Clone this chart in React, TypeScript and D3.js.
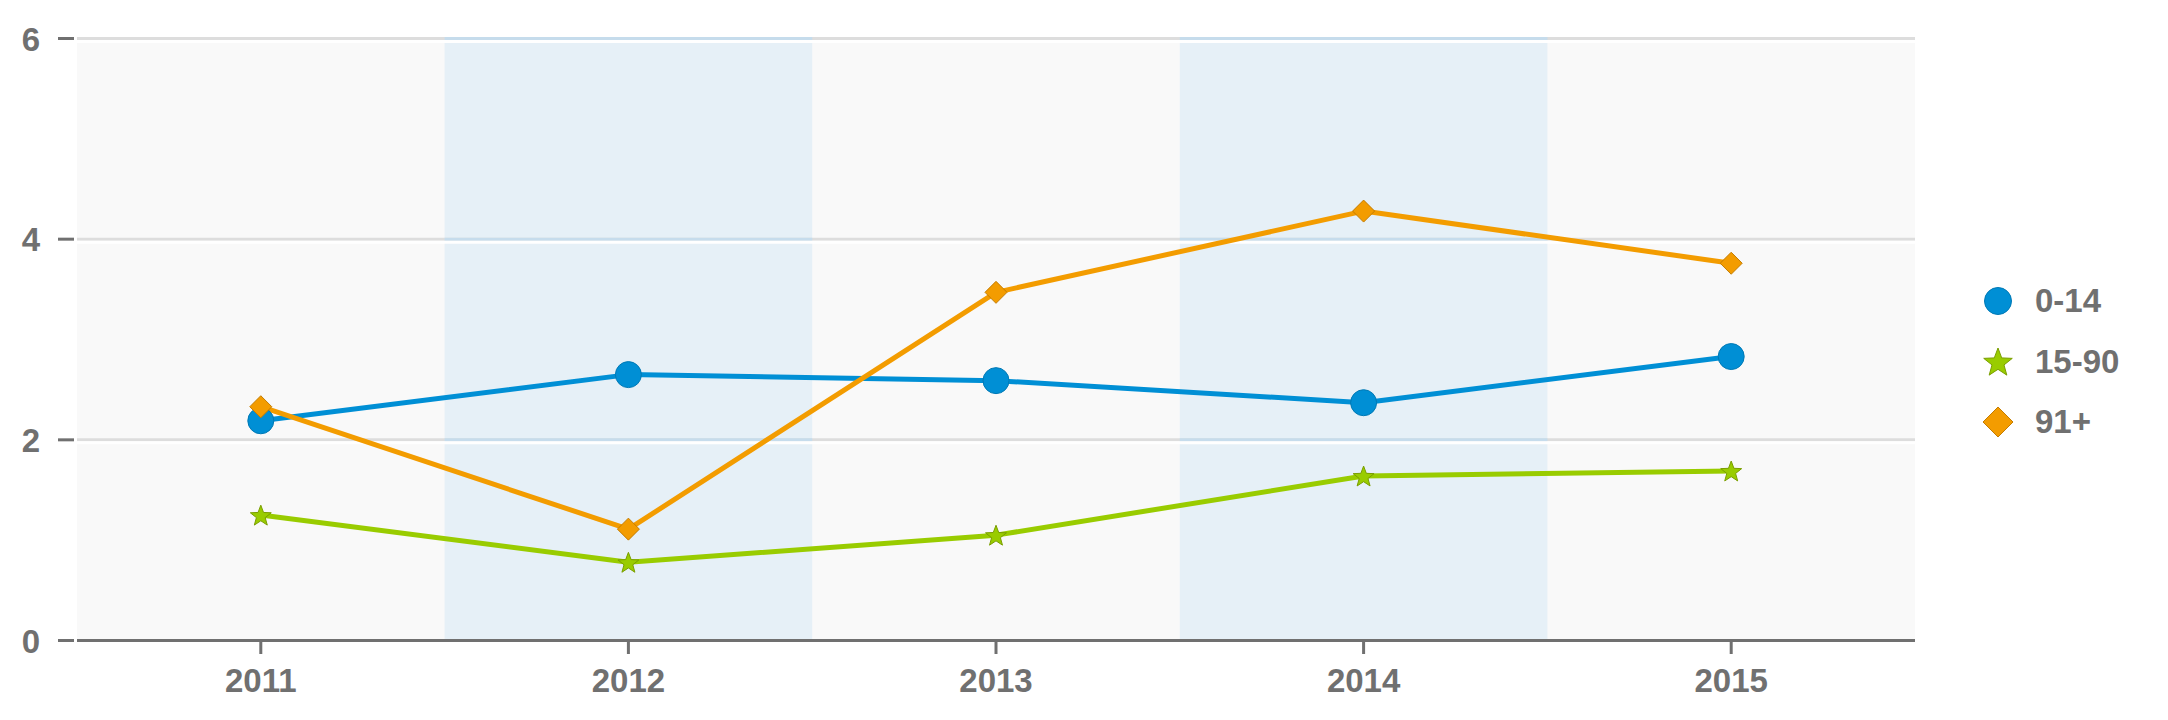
import React from "react";
import * as d3 from "d3";

const years = ["2011", "2012", "2013", "2014", "2015"];
const seriesNames = ["0-14", "15-90", "91+"];
const values0to14 = [2.19, 2.65, 2.59, 2.37, 2.83];
const values15to90 = [1.25, 0.78, 1.05, 1.64, 1.69];
const values91plus = [2.33, 1.11, 3.47, 4.28, 3.76];
const yTicks = [0, 2, 4, 6];
const highlightedYears = ["2012", "2014"];

const W = 2168;
const H = 720;
const TEXT = "#707070";
const FONT = "'Liberation Sans', Arial, sans-serif";
const FS = 33;

const colors = ["#008fd5", "#99cc00", "#f39c00"];
const strokes = ["#0079b5", "#7a9e00", "#c47c00"];
const shapes = ["circle", "star", "diamond"];

function markerPath(shape: string, size: number): string | null {
  if (shape === "star") {
    const outer = size;
    const inner = size * 0.42;
    const pts: [number, number][] = [];
    for (let i = 0; i < 10; i++) {
      const r = i % 2 === 0 ? outer : inner;
      const a = -Math.PI / 2 + (i * Math.PI) / 5;
      pts.push([r * Math.cos(a), r * Math.sin(a) + size * 0.1]);
    }
    return "M" + pts.map((p) => p.join(",")).join("L") + "Z";
  }
  if (shape === "diamond") {
    const s = size;
    return `M0,${-s}L${s},0L0,${s}L${-s},0Z`;
  }
  return null;
}

function Marker({ shape, x, y, i, size }: { shape: string; x: number; y: number; i: number; size: number }) {
  if (shape === "circle") {
    return <circle cx={x} cy={y} r={size} fill={colors[i]} stroke={strokes[i]} strokeWidth={1} />;
  }
  return (
    <path
      d={markerPath(shape, size) as string}
      transform={`translate(${x},${y})`}
      fill={colors[i]}
      stroke={strokes[i]}
      strokeWidth={1}
      strokeLinejoin="miter"
    />
  );
}

export default function App() {
  const left = 77;
  const right = 1915;
  const x = d3.scaleBand<string>().domain(years).range([left, right]).padding(0);
  const y = d3.scaleLinear().domain([0, 6]).range([640.5, 38.5]);
  const cx = (d: string) => (x(d) as number) + x.bandwidth() / 2;

  const allSeries = [values0to14, values15to90, values91plus];
  const line = d3
    .line<number>()
    .x((_, i) => cx(years[i]))
    .y((v) => y(v));

  const gridVals = yTicks.filter((t) => t > 0);

  return (
    <svg
      width={W}
      height={H}
      style={{ position: "absolute", left: 0, top: 0, background: "#fff" }}
      fontFamily={FONT}
    >
      <rect x={left} y={y(6) - 1.5} width={right - left} height={y(0) - y(6) + 1.5} fill="#f9f9f9" />
      {highlightedYears.map((yr) => (
        <rect
          key={yr}
          x={x(yr)}
          y={y(6) - 1.5}
          width={x.bandwidth()}
          height={y(0) - y(6) + 1.5}
          fill="#e6f0f7"
        />
      ))}
      {gridVals.map((t) => (
        <g key={t}>
          <line x1={left} x2={right} y1={y(t)} y2={y(t)} stroke="#dddddd" strokeWidth={3} />
          {highlightedYears.map((yr) => (
            <line
              key={yr}
              x1={x(yr)}
              x2={(x(yr) as number) + x.bandwidth()}
              y1={y(t)}
              y2={y(t)}
              stroke="#c6dcec"
              strokeWidth={3}
            />
          ))}
          <line x1={left} x2={right} y1={y(t) + 3} y2={y(t) + 3} stroke="#ffffff" strokeWidth={3} />
        </g>
      ))}
      <line x1={left} x2={right} y1={y(0)} y2={y(0)} stroke={TEXT} strokeWidth={3} />
      {years.map((yr) => (
        <g key={yr}>
          <line x1={cx(yr)} x2={cx(yr)} y1={y(0)} y2={654} stroke={TEXT} strokeWidth={3} />
          <text x={cx(yr)} y={692} textAnchor="middle" fontSize={FS} fontWeight="bold" fill={TEXT}>
            {yr}
          </text>
        </g>
      ))}
      {yTicks.map((t) => (
        <g key={t}>
          <line x1={58} x2={74} y1={y(t)} y2={y(t)} stroke={TEXT} strokeWidth={3} />
          <text x={40} y={y(t) + 12} textAnchor="end" fontSize={FS} fontWeight="bold" fill={TEXT}>
            {t}
          </text>
        </g>
      ))}
      {allSeries.map((vals, i) => (
        <path key={i} d={line(vals) as string} fill="none" stroke={colors[i]} strokeWidth={5} strokeLinejoin="round" />
      ))}
      {allSeries.map((vals, i) =>
        vals.map((v, j) => (
          <Marker
            key={`${i}-${j}`}
            shape={shapes[i]}
            x={cx(years[j])}
            y={y(v)}
            i={i}
            size={shapes[i] === "circle" ? 13 : 11}
          />
        ))
      )}
      {seriesNames.map((name, i) => (
        <g key={name} transform={`translate(1998,${301 + i * 60.5})`}>
          <Marker shape={shapes[i]} x={0} y={0} i={i} size={shapes[i] === "circle" ? 13.5 : 15} />
          <text x={37} y={11} fontSize={FS} fontWeight="bold" fill={TEXT}>
            {name}
          </text>
        </g>
      ))}
    </svg>
  );
}
